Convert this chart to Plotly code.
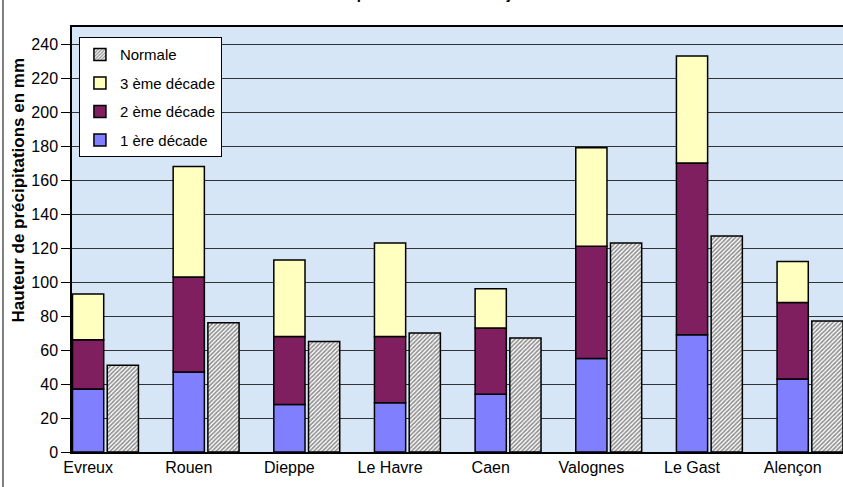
import plotly.graph_objects as go

stations = ["Evreux", "Rouen", "Dieppe", "Le Havre", "Caen", "Valognes", "Le Gast", "Alençon"]
decade1 = [37, 47, 28, 29, 34, 55, 69, 43]
decade2 = [29, 56, 40, 39, 39, 66, 101, 45]
decade3 = [27, 65, 45, 55, 23, 58, 63, 24]
normale = [51, 76, 65, 70, 67, 123, 127, 77]
y_ticks = list(range(0, 241, 20))

base2 = decade1
base3 = [a + b for a, b in zip(decade1, decade2)]

W_BAR = 0.31
OFF_STACK = -0.155
OFF_NORM = 0.19
line = dict(color="black", width=1.5)

fig = go.Figure()
fig.add_trace(go.Bar(x=stations, y=decade1, name="1 ère décade", width=W_BAR, offset=OFF_STACK,
                     legendgroup="d1", legendrank=4, marker=dict(color="#8080FF", line=line)))
fig.add_trace(go.Bar(x=stations, y=decade2, base=base2, name="2 ème décade", width=W_BAR, offset=OFF_STACK,
                     legendgroup="d2", legendrank=3, marker=dict(color="#801F5F", line=line)))
fig.add_trace(go.Bar(x=stations, y=decade3, base=base3, name="3 ème décade", width=W_BAR, offset=OFF_STACK,
                     legendgroup="d3", legendrank=2, marker=dict(color="#FFFFC0", line=line)))
fig.add_trace(go.Bar(x=stations, y=normale, name="Normale", width=W_BAR, offset=OFF_NORM,
                     legendgroup="n", legendrank=1,
                     marker=dict(color="white", line=line,
                                 pattern=dict(shape="/", fgcolor="#222222", bgcolor="#ffffff",
                                              size=3, solidity=0.55))))

fig.update_layout(
    width=843, height=487,
    margin=dict(l=72, r=0, t=27, b=35),
    paper_bgcolor="white",
    plot_bgcolor="#d6e6f7",
    barmode="overlay",
    font=dict(family="Liberation Sans, Arial, sans-serif", size=16, color="black"),
    showlegend=True,
    legend=dict(x=0.009, y=0.976, xanchor="left", yanchor="top",
                bgcolor="white", bordercolor="black", borderwidth=1,
                traceorder="grouped", font=dict(size=15),
                itemwidth=30, tracegroupgap=6),
    xaxis=dict(type="category", range=[-0.16, 7.5], showgrid=False,
               showline=True, linecolor="black", linewidth=1.5, mirror=True,
               ticks="", tickfont=dict(size=16), fixedrange=True),
    yaxis=dict(range=[0, 250], tickvals=y_ticks, showgrid=True, gridcolor="#333333", gridwidth=1,
               showline=True, linecolor="black", linewidth=1.5,
               ticks="outside", ticklen=9, tickcolor="black", tickwidth=1,
               tickfont=dict(size=16), zeroline=False, fixedrange=True),
    annotations=[
        dict(text="<b>Précipitations du mois de juin 2010</b>", xref="paper", yref="paper",
             x=0.484, y=1.053, xanchor="center", yanchor="bottom", showarrow=False,
             font=dict(size=15)),
        dict(text="<b>Hauteur de précipitations en mm</b>", xref="paper", yref="paper",
             x=-0.0697, y=0.616, xanchor="center", yanchor="middle", textangle=-90,
             showarrow=False, font=dict(size=17)),
    ],
    shapes=[dict(type="line", xref="paper", yref="paper", x0=-0.0895, x1=-0.0895, y0=-0.1, y1=1.1,
                 line=dict(color="black", width=1))],
)

fig.write_html("out.html", config={"displayModeBar": False},
               post_script="document.body.style.margin='0';document.body.style.padding='0';")
